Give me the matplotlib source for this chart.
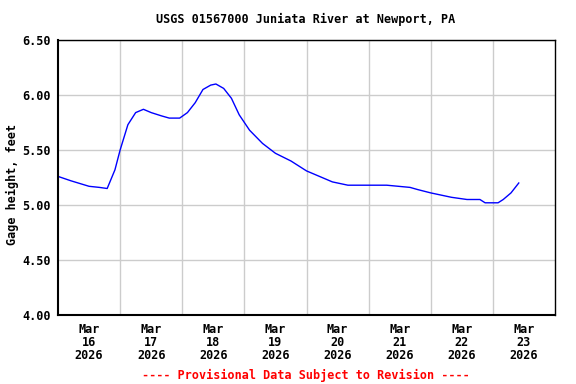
import numpy as np
import matplotlib.pyplot as plt

# hours since Mar 16 2026 00:00, gage height in feet
hours = [0, 5, 12, 16, 19, 22, 24, 27, 30, 33, 36, 40, 43, 47, 50, 53, 56, 59,
         61, 64, 67, 70, 74, 79, 84, 90, 96, 101, 106, 112, 120, 127, 136, 139,
         144, 152, 158, 163, 165, 170, 172, 175, 178]
gage = [5.26, 5.22, 5.17, 5.16, 5.15, 5.32, 5.50, 5.73, 5.84, 5.87, 5.84, 5.81,
        5.79, 5.79, 5.84, 5.93, 6.05, 6.09, 6.10, 6.06, 5.97, 5.82, 5.68, 5.56,
        5.47, 5.40, 5.31, 5.26, 5.21, 5.18, 5.18, 5.18, 5.16, 5.14, 5.11, 5.07,
        5.05, 5.05, 5.02, 5.02, 5.05, 5.11, 5.20]

day_labels = ["Mar\n16\n2026", "Mar\n17\n2026", "Mar\n18\n2026", "Mar\n19\n2026",
              "Mar\n20\n2026", "Mar\n21\n2026", "Mar\n22\n2026", "Mar\n23\n2026"]
y_ticks = [4.00, 4.50, 5.00, 5.50, 6.00, 6.50]

plt.rcParams["font.family"] = "DejaVu Sans Mono"
plt.rcParams["font.weight"] = "bold"
fs = 8.5

fig = plt.figure(figsize=(5.76, 3.84), dpi=100)
ax = fig.add_axes([58 / 576, 69 / 384, 497 / 576, 275 / 384])

days = np.array(hours) / 24.0
ax.plot(days, gage, color="#0000ff", linewidth=1.0)

ax.set_xlim(0, 8)
ax.set_ylim(4.0, 6.5)
ax.set_xticks(range(1, 8))
ax.set_xticklabels([])
ax.set_xticks(np.arange(len(day_labels)) + 0.5, minor=True)
ax.set_xticklabels(day_labels, minor=True, fontsize=fs, fontweight="bold", linespacing=1.0)
ax.set_yticks(y_ticks)
ax.set_yticklabels(["%.2f" % v for v in y_ticks], fontsize=fs, fontweight="bold")
ax.tick_params(which="both", length=0, pad=5)
ax.tick_params(axis="x", which="minor", pad=6)
ax.grid(True, color="#cccccc", linewidth=1.0)
ax.set_axisbelow(True)
for s in ax.spines.values():
    s.set_color("black")
    s.set_linewidth(1.0)
ax.spines["left"].set_linewidth(1.5)
ax.spines["bottom"].set_linewidth(1.5)

fig.text(12 / 576, 1 - 184 / 384, "Gage height, feet", rotation=90,
         ha="center", va="center", fontsize=fs, fontweight="bold")
fig.text(306 / 576, 1 - 19 / 384, "USGS 01567000 Juniata River at Newport, PA",
         ha="center", va="center", fontsize=fs, fontweight="bold")
fig.text(306 / 576, 1 - 375 / 384, "---- Provisional Data Subject to Revision ----",
         ha="center", va="center", fontsize=fs, fontweight="bold", color="red")

fig.savefig("out.png", dpi=100)
